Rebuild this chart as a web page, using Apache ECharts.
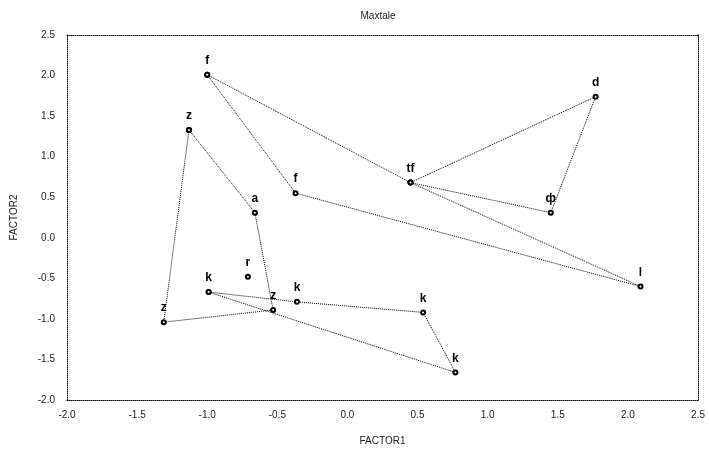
<!DOCTYPE html>
<html>
<head>
<meta charset="utf-8">
<script src="https://cdn.jsdelivr.net/npm/echarts@6/dist/echarts.min.js"></script>
<style>html,body{margin:0;padding:0;background:#fff;}#c{width:709px;height:454px;}</style>
</head>
<body>
<div id="c"></div>
<script>
// Group 1 (f / l / tf)
const g1Names = ['f', 'f', 'l', 'tf'];
const g1X = [-1.0, -0.37, 2.09, 0.45];
const g1Y = [2.01, 0.55, -0.60, 0.68];
// Group 2 (tf / d / ф)
const g2Names = ['', 'd', 'ф'];
const g2X = [0.45, 1.77, 1.45];
const g2Y = [0.68, 1.74, 0.31];
// Group 3 (z / a)
const g3Names = ['z', 'a', 'z', 'z'];
const g3X = [-1.13, -0.66, -0.53, -1.31];
const g3Y = [1.33, 0.31, -0.89, -1.04];
// Group 4 (k)
const g4Names = ['k', 'k', 'k', 'k'];
const g4X = [-0.99, -0.36, 0.54, 0.77];
const g4Y = [-0.67, -0.79, -0.92, -1.66];
// Single point
const g5Names = ['r'];
const g5X = [-0.71];
const g5Y = [-0.48];

const xTicks = [-2.0, -1.5, -1.0, -0.5, 0.0, 0.5, 1.0, 1.5, 2.0, 2.5];
const yTicks = [-2.0, -1.5, -1.0, -0.5, 0.0, 0.5, 1.0, 1.5, 2.0, 2.5];

function build(names, xs, ys, closed) {
  const d = names.map((n, i) => ({ name: n, value: [xs[i], ys[i]] }));
  if (closed) d.push({ name: '', value: [xs[0], ys[0]], label: { show: false } });
  return d;
}
const lineStyle = { color: '#000', width: 1, type: 'dotted' };
const labelStyle = {
  show: true, position: 'top', distance: 5, color: '#000',
  fontFamily: 'Arial, Liberation Sans, sans-serif', fontSize: 12, fontWeight: 'bold',
  formatter: p => p.name
};
function series(names, xs, ys, closed) {
  return {
    type: 'line', data: build(names, xs, ys, closed),
    symbol: 'emptyCircle', symbolSize: 4,
    itemStyle: { color: '#000', borderColor: '#000', borderWidth: 0.8 },
    lineStyle: lineStyle, label: labelStyle, silent: true, animation: false,
    xAxisIndex: 0, yAxisIndex: 0
  };
}
const axisFont = { color: '#222', fontSize: 10, fontFamily: 'Arial, Liberation Sans, sans-serif' };
const dotted = { show: true, onZero: false, lineStyle: { color: '#000', width: 1, type: 'dotted' } };

const chart = echarts.init(document.getElementById('c'));
chart.setOption({
  animation: false,
  backgroundColor: '#fff',
  title: {
    text: 'Maxtale', left: 373, top: 6, textAlign: 'center',
    textStyle: { fontSize: 10, fontWeight: 'normal', color: '#222', fontFamily: 'Arial, Liberation Sans, sans-serif' }
  },
  grid: { left: 67, right: 11, top: 35, bottom: 54 },
  xAxis: [
    {
      type: 'value', position: 'bottom', min: -2.0, max: 2.5, interval: 0.5,
      name: 'FACTOR1', nameLocation: 'middle', nameGap: 36,
      nameTextStyle: axisFont,
      axisLine: dotted, axisTick: { show: false }, splitLine: { show: false },
      axisLabel: Object.assign({ margin: 10, formatter: v => { const t = xTicks.find(k => Math.abs(k - v) < 1e-9); return t === undefined ? '' : t.toFixed(1); } }, axisFont)
    },
    {
      type: 'value', position: 'top', min: -2.0, max: 2.5, interval: 0.5,
      axisLine: dotted, axisTick: { show: false }, splitLine: { show: false }, axisLabel: { show: false }
    }
  ],
  yAxis: [
    {
      type: 'value', position: 'left', min: -2.0, max: 2.5, interval: 0.5,
      name: 'FACTOR2', nameLocation: 'middle', nameGap: 48, nameRotate: 90,
      nameTextStyle: axisFont,
      axisLine: dotted, axisTick: { show: false }, splitLine: { show: false },
      axisLabel: Object.assign({ margin: 12, formatter: v => { const t = yTicks.find(k => Math.abs(k - v) < 1e-9); return t === undefined ? '' : t.toFixed(1); } }, axisFont)
    },
    {
      type: 'value', position: 'right', min: -2.0, max: 2.5, interval: 0.5,
      axisLine: dotted, axisTick: { show: false }, splitLine: { show: false }, axisLabel: { show: false }
    }
  ],
  series: [
    series(g1Names, g1X, g1Y, true),
    series(g2Names, g2X, g2Y, true),
    series(g3Names, g3X, g3Y, true),
    series(g4Names, g4X, g4Y, true),
    series(g5Names, g5X, g5Y, false)
  ]
});
</script>
</body>
</html>
